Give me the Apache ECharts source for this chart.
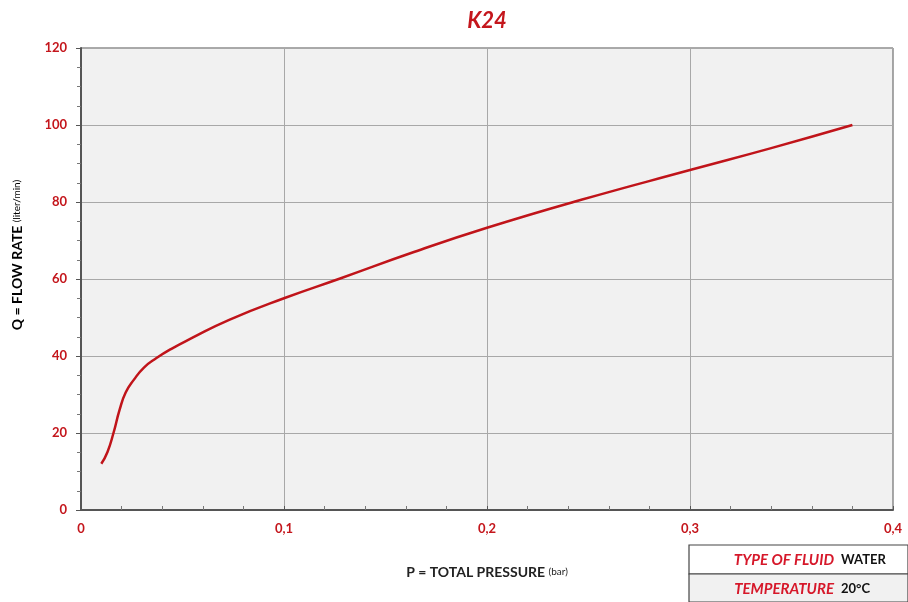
<!DOCTYPE html>
<html><head><meta charset="utf-8">
<script src="https://cdn.jsdelivr.net/npm/echarts@6/dist/echarts.min.js"></script>
<style>html,body{margin:0;padding:0;background:#fff}#c{width:908px;height:602px}</style>
</head><body><div id="c"></div>
<script>
var pressure = [0.010,0.013,0.016,0.019,0.022,0.026,0.031,0.037,0.045,0.054,0.073,0.100,0.128,0.164,0.200,0.246,0.300,0.340,0.380];
var flow     = [12,   15,   20,   26,   30.5, 33.8, 37,   39.4, 42,   44.5, 49.4, 55,   60.2, 67.0, 73.3, 80.5, 88.3, 94,   100];
var titleText = 'K24';
var xName = 'P = TOTAL PRESSURE';
var xUnit = '(bar)';
var yName = 'Q = FLOW RATE';
var yUnit = '(liter/min)';
var tableRows = [['TYPE OF FLUID','WATER'],['TEMPERATURE','20°C']];

var RED = '#c4161c';
var chart = echarts.init(document.getElementById('c'));
var data = pressure.map(function(p,i){return [p, flow[i]];});
var nameRich = {a:{fontFamily:'Lato',fontWeight:'bold',fontSize:14,color:'#222'},b:{fontFamily:'Lato',fontSize:10,color:'#222'}};
chart.setOption({
  backgroundColor:'#fff',
  title:{text:titleText,left:482,top:5,textAlign:'center',textStyle:{color:RED,fontSize:22,fontWeight:'bold',fontStyle:'italic',fontFamily:'Lato'}},
  grid:{left:81,right:15,top:48,bottom:92,show:true,backgroundColor:'#f1f1f1',borderColor:'#555',borderWidth:1},
  xAxis:{type:'value',min:0,max:0.4,interval:0.1,
    name:'{a|'+xName+'} {b|'+xUnit+'}',nameLocation:'middle',nameGap:55,
    nameTextStyle:{rich:nameRich},
    axisLine:{lineStyle:{color:'#555',width:2}},
    axisTick:{inside:true,length:4,lineStyle:{color:'#555'}},
    minorTick:{show:true,splitNumber:5,length:4,lineStyle:{color:'#777'}},
    splitLine:{show:true,lineStyle:{color:'#a8a8a8',width:1}},
    axisLabel:{color:RED,fontFamily:'Lato',fontWeight:'bold',fontSize:13,margin:12,
      formatter:function(v){return v===0?'0':String(+v.toFixed(1)).replace('.',',');}}
  },
  yAxis:{type:'value',min:0,max:120,interval:20,
    axisLine:{lineStyle:{color:'#555',width:2}},
    axisTick:{inside:false,length:5,lineStyle:{color:'#555'}},
    minorTick:{show:true,splitNumber:4,length:4,lineStyle:{color:'#777'}},
    splitLine:{show:true,lineStyle:{color:'#a8a8a8',width:1}},
    axisLabel:{color:RED,fontFamily:'Lato',fontWeight:'bold',fontSize:13,margin:14}
  },
  series:[{type:'line',data:data,smooth:0.5,showSymbol:false,lineStyle:{color:'#c0141a',width:2.5}}],
  graphic:[
    {type:'text',x:17,y:255,rotation:Math.PI/2,style:{text:'{a|'+yName+'} {b|'+yUnit+'}',rich:nameRich,align:'center',verticalAlign:'middle'}},
    {type:'rect',shape:{x:689,y:545,width:219,height:29},style:{fill:'#fff',stroke:'#444',lineWidth:1.2}},
    {type:'rect',shape:{x:689,y:574,width:219,height:28},style:{fill:'#f1f1f1',stroke:'#444',lineWidth:1.2}},
    {type:'text',x:834,y:560,style:{text:tableRows[0][0],align:'right',verticalAlign:'middle',fill:'#d6182a',font:'italic bold 15px Lato'}},
    {type:'text',x:841,y:560,style:{text:tableRows[0][1],align:'left',verticalAlign:'middle',fill:'#111',font:'bold 13px Lato'}},
    {type:'text',x:834,y:589,style:{text:tableRows[1][0],align:'right',verticalAlign:'middle',fill:'#d6182a',font:'italic bold 15px Lato'}},
    {type:'text',x:841,y:589,style:{text:tableRows[1][1],align:'left',verticalAlign:'middle',fill:'#111',font:'bold 13px Lato'}}
  ]
});
</script></body></html>
